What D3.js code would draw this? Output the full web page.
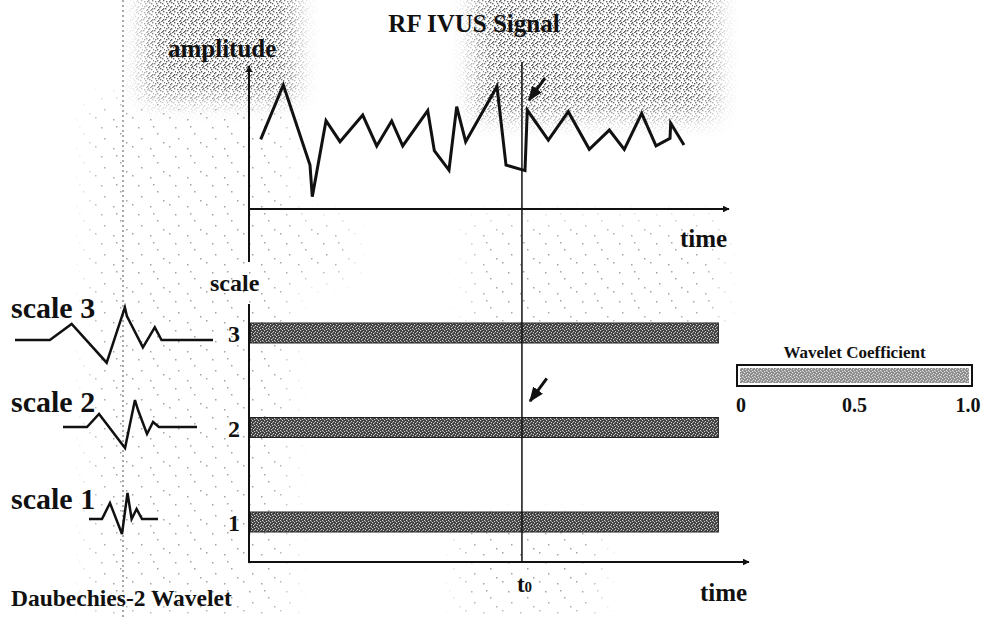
<!DOCTYPE html>
<html>
<head>
<meta charset="utf-8">
<script src="https://cdn.jsdelivr.net/npm/d3@7"></script>
<style>
  html, body { margin: 0; padding: 0; background: #fff; }
  svg { display: block; }
  text { font-family: "Liberation Serif", "Times New Roman", serif; font-weight: bold; fill: #111; }
</style>
</head>
<body>
<svg id="chart" width="987" height="618"></svg>
<script>
// ---------------- data ----------------
const chartTitle = "RF IVUS Signal";
const timeDomain = [0, 100];
const ampDomain = [0, 1];
// RF IVUS signal (time, amplitude)
const signalTime = [2.45, 7.18, 12.76, 13.24, 16.11, 19.04, 23.79, 26.72, 29.85, 32.16, 37.39, 38.77, 41.84, 43.45, 45.33, 51.88, 53.77, 57.74, 58.22, 62.62, 66.80, 71.19, 75.38, 78.51, 82.15, 85.15, 88.08, 88.22, 91.00];
const signalAmp  = [0.474, 0.844, 0.299, 0.084, 0.601, 0.458, 0.639, 0.429, 0.599, 0.429, 0.669, 0.397, 0.265, 0.696, 0.458, 0.833, 0.299, 0.261, 0.673, 0.469, 0.662, 0.406, 0.537, 0.406, 0.651, 0.429, 0.481, 0.583, 0.435];
const t0 = 57.1;
// wavelet coefficient bands
const scaleLevels = [3, 2, 1];
const scaleLabels = ["3", "2", "1"];
const bandStart = [0.3, 0.3, 0.3];
const bandEnd = [98.2, 98.2, 98.2];
// Daubechies-2 wavelets at each scale (normalised u, v)
const wavelet3U = [0, 0.176, 0.286, 0.463, 0.555, 0.565, 0.646, 0.706, 0.74, 1];
const wavelet3V = [0, 0, 0.485, -0.688, 0.99, 0.727, -0.222, 0.384, 0, 0];
const wavelet2U = [0, 0.179, 0.269, 0.463, 0.537, 0.56, 0.627, 0.672, 0.716, 1];
const wavelet2V = [0, 0, 0.394, -0.636, 0.818, 0.515, -0.212, 0.152, 0, 0];
const wavelet1U = [0, 0.188, 0.304, 0.478, 0.558, 0.618, 0.69, 0.768, 1];
const wavelet1V = [0, 0, 0.485, -0.455, 0.788, 0, 0.303, 0, 0];
const waveletNames = ["scale 3", "scale 2", "scale 1"];
// legend
const legendTitle = "Wavelet Coefficient";
const legendTicks = [0, 0.5, 1.0];
const legendTickLabels = ["0", "0.5", "1.0"];
// annotation arrows (time, value)
const arrowTopFrom = [61.9, 0.891], arrowTopTo = [58.6, 0.741];
const arrowMidFrom = [62.3, 2.52], arrowMidTo = [58.8, 2.28];

// ---------------- drawing ----------------
const svg = d3.select("#chart");
const defs = svg.append("defs");

// speckle textures (scan noise), fixed dot layouts
const speck = defs.append("pattern").attr("id", "speck").attr("patternUnits", "userSpaceOnUse")
  .attr("width", 11).attr("height", 11);
[[1,1],[5,0],[8,3],[3,5],[9,8],[0,8],[6,6],[4,9],[2,3],[7,10],[10,5],[6,2],[1,6],[8,9],[4,1],[9,0],[3,10],[5,7]].forEach(([a,b]) =>
  speck.append("rect").attr("x", a).attr("y", b).attr("width", 1.4).attr("height", 1.4).attr("fill", "#1a1a1a"));
const sparse = defs.append("pattern").attr("id", "sparse").attr("patternUnits", "userSpaceOnUse")
  .attr("width", 37).attr("height", 29);
[[2,3],[21,1],[9,17],[30,22],[15,26],[27,11],[5,10]].forEach(([a,b]) =>
  sparse.append("rect").attr("x", a).attr("y", b).attr("width", 1.5).attr("height", 1.5).attr("fill", "#333"));

const bandPat = defs.append("pattern").attr("id", "band").attr("patternUnits", "userSpaceOnUse")
  .attr("width", 6).attr("height", 6);
bandPat.append("rect").attr("width", 6).attr("height", 6).attr("fill", "#3e3e3e");
[[0,0],[3,1],[1,3],[4,4],[5,2],[2,5]].forEach(([a,b]) =>
  bandPat.append("rect").attr("x", a).attr("y", b).attr("width", 1.2).attr("height", 1.2).attr("fill", "#d0d0d0"));
[[2,2],[5,5]].forEach(([a,b]) =>
  bandPat.append("rect").attr("x", a).attr("y", b).attr("width", 1).attr("height", 1).attr("fill", "#999"));

const blur = defs.append("filter").attr("id", "soft").attr("x", "-40%").attr("y", "-40%").attr("width", "180%").attr("height", "180%");
blur.append("feGaussianBlur").attr("stdDeviation", 12);
const mask = defs.append("mask").attr("id", "noiseMask");
mask.append("rect").attr("x", 145).attr("y", -20).attr("width", 150).attr("height", 118).attr("fill", "#fff").attr("filter", "url(#soft)");
mask.append("rect").attr("x", 475).attr("y", -20).attr("width", 240).attr("height", 135).attr("fill", "#fff").attr("filter", "url(#soft)");
const mask2 = defs.append("mask").attr("id", "sparseMask");
[[90, 100, 200, 520], [470, 220, 250, 110], [460, 520, 140, 98], [250, 220, 100, 60]].forEach(([a,b,w,h]) =>
  mask2.append("rect").attr("x", a).attr("y", b).attr("width", w).attr("height", h).attr("fill", "#fff").attr("filter", "url(#soft)"));
svg.append("rect").attr("width", 987).attr("height", 618).attr("fill", "url(#sparse)")
  .attr("mask", "url(#sparseMask)").attr("opacity", 0.45);
svg.append("rect").attr("width", 987).attr("height", 618).attr("fill", "url(#speck)")
  .attr("mask", "url(#noiseMask)").attr("opacity", 0.7);

const arrow = defs.append("marker").attr("id", "arr").attr("viewBox", "0 0 10 10")
  .attr("refX", 9).attr("refY", 5).attr("markerWidth", 5).attr("markerHeight", 5)
  .attr("markerUnits", "strokeWidth").attr("orient", "auto");
arrow.append("path").attr("d", "M0,1 L10,5 L0,9 Z").attr("fill", "#111");
const arrowS = defs.append("marker").attr("id", "arrS").attr("viewBox", "0 0 10 10")
  .attr("refX", 9).attr("refY", 5).attr("markerWidth", 3.4).attr("markerHeight", 3.4)
  .attr("markerUnits", "strokeWidth").attr("orient", "auto");
arrowS.append("path").attr("d", "M0,0 L10,5 L0,10 Z").attr("fill", "#111");

// scales
const x = d3.scaleLinear().domain(timeDomain).range([249, 727]);
const yAmp = d3.scaleLinear().domain(ampDomain).range([209, 62]);
const yScale = d3.scaleLinear().domain([1, 3]).range([522, 333]);
const bandH = 20;

// scanned dotted guide line
svg.append("line").attr("x1", 123).attr("x2", 123).attr("y1", 0).attr("y2", 618)
  .attr("stroke", "#555").attr("stroke-width", 1).attr("stroke-dasharray", "2,3");

// title
svg.append("text").attr("x", 474).attr("y", 32).attr("text-anchor", "middle")
  .attr("font-size", 25).text(chartTitle);

// amplitude axis
svg.append("line").attr("x1", x(0)).attr("x2", x(0)).attr("y1", 262).attr("y2", 66)
  .attr("stroke", "#111").attr("stroke-width", 2).attr("marker-end", "url(#arrS)");
svg.append("text").attr("x", 168).attr("y", 57).attr("font-size", 25).text("amplitude");
// upper time axis
svg.append("line").attr("x1", x(0)).attr("x2", x(100) + 2).attr("y1", yAmp(0)).attr("y2", yAmp(0))
  .attr("stroke", "#111").attr("stroke-width", 2).attr("marker-end", "url(#arrS)");
svg.append("text").attr("x", 680).attr("y", 247).attr("font-size", 25).text("time");

// scale axis
svg.append("line").attr("x1", x(0)).attr("x2", x(0)).attr("y1", 304).attr("y2", 563)
  .attr("stroke", "#111").attr("stroke-width", 2);
svg.append("text").attr("x", 210).attr("y", 291).attr("font-size", 24).text("scale");
// lower time axis
svg.append("line").attr("x1", x(0) - 1).attr("x2", 749).attr("y1", 562).attr("y2", 562)
  .attr("stroke", "#111").attr("stroke-width", 2).attr("marker-end", "url(#arrS)");
svg.append("text").attr("x", 700).attr("y", 601).attr("font-size", 25).text("time");
const t0Label = svg.append("text").attr("x", x(t0) - 5).attr("y", 592).attr("font-size", 23);
t0Label.append("tspan").text("t");
t0Label.append("tspan").attr("font-size", 15).text("0");

// bands
svg.selectAll("rect.band").data(scaleLevels).join("rect").attr("class", "band")
  .attr("x", (d, i) => x(bandStart[i])).attr("width", (d, i) => x(bandEnd[i]) - x(bandStart[i]))
  .attr("y", d => yScale(d) - bandH / 2).attr("height", bandH)
  .attr("fill", "url(#band)").attr("stroke", "#222").attr("stroke-width", 1);
svg.selectAll("text.lvl").data(scaleLevels).join("text").attr("class", "lvl")
  .attr("x", 240).attr("y", d => yScale(d) + 9).attr("text-anchor", "end")
  .attr("font-size", 24).text((d, i) => scaleLabels[i]);

// t0 vertical line
svg.append("line").attr("x1", x(t0)).attr("x2", x(t0)).attr("y1", 62).attr("y2", 562)
  .attr("stroke", "#111").attr("stroke-width", 1.5);

// signal
const sig = signalTime.map((t, i) => [t, signalAmp[i]]);
svg.append("path").datum(sig)
  .attr("d", d3.line().x(d => x(d[0])).y(d => yAmp(d[1])))
  .attr("fill", "none").attr("stroke", "#111").attr("stroke-width", 3).attr("stroke-linejoin", "miter");

// arrows
[[arrowTopFrom, arrowTopTo, yAmp], [arrowMidFrom, arrowMidTo, yScale]].forEach(([f, t, ys]) => {
  svg.append("line").attr("x1", x(f[0])).attr("y1", ys(f[1])).attr("x2", x(t[0])).attr("y2", ys(t[1]))
    .attr("stroke", "#111").attr("stroke-width", 3).attr("marker-end", "url(#arr)");
});

// wavelets
const wavelets = [
  { u: wavelet3U, v: wavelet3V, x0: 15, x1: 213, base: 340, text: 318 },
  { u: wavelet2U, v: wavelet2V, x0: 63, x1: 197, base: 427, text: 412 },
  { u: wavelet1U, v: wavelet1V, x0: 89, x1: 158, base: 519, text: 509 }
];
wavelets.forEach((w, i) => {
  const wx = d3.scaleLinear().domain([0, 1]).range([w.x0, w.x1]);
  const wy = d3.scaleLinear().domain([-1, 1]).range([w.base + 33, w.base - 33]);
  svg.append("path").datum(w.u.map((u, j) => [u, w.v[j]]))
    .attr("d", d3.line().x(d => wx(d[0])).y(d => wy(d[1])))
    .attr("fill", "none").attr("stroke", "#111").attr("stroke-width", 2.5).attr("stroke-linejoin", "miter");
  svg.append("text").attr("x", 11).attr("y", w.text).attr("font-size", 30).text(waveletNames[i]);
});
svg.append("text").attr("x", 11).attr("y", 606).attr("font-size", 23.5).text("Daubechies-2 Wavelet");

// legend
const xLeg = d3.scaleLinear().domain([0, 1]).range([741, 968]);
svg.append("text").attr("x", (xLeg(0) + xLeg(1)) / 2).attr("y", 358).attr("text-anchor", "middle")
  .attr("font-size", 17).text(legendTitle);
svg.append("rect").attr("x", xLeg(0) - 4).attr("y", 365).attr("width", xLeg(1) - xLeg(0) + 8).attr("height", 21)
  .attr("fill", "#fff").attr("stroke", "#111").attr("stroke-width", 2);
svg.append("rect").attr("x", xLeg(0) - 1).attr("y", 368).attr("width", xLeg(1) - xLeg(0) + 2).attr("height", 15)
  .attr("fill", "url(#band)").attr("opacity", 0.6);
svg.selectAll("text.leg").data(legendTicks).join("text").attr("class", "leg")
  .attr("x", d => xLeg(d)).attr("y", 412).attr("text-anchor", "middle")
  .attr("font-size", 20).text((d, i) => legendTickLabels[i]);
</script>
</body>
</html>
